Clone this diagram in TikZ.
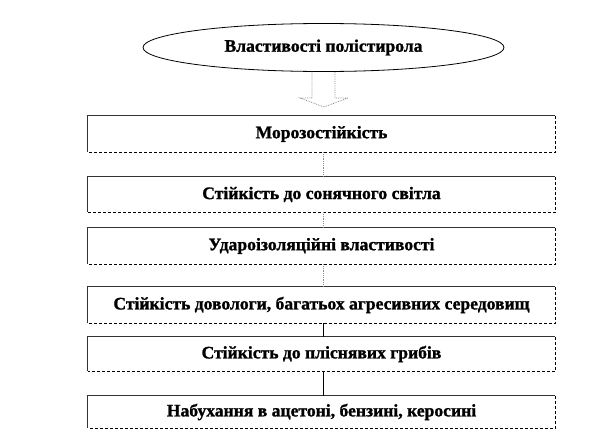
\documentclass[tikz,border=0pt]{standalone}
\usepackage{fontspec}
\setmainfont{Liberation Serif}
\newfontfamily\heavyfont[FakeBold=1.2]{Liberation Serif Bold}
\usetikzlibrary{shapes.geometric}
\begin{document}
\begin{tikzpicture}[x=1pt,y=-1pt,
  lbl/.style={font=\fontsize{17.6}{20}\selectfont\heavyfont},
  box/.style={lbl, rectangle, minimum width=467pt, inner sep=0pt},
  edgesolid/.style={draw=black!80, line width=0.7pt},
  edgedash/.style={draw=black, line width=0.8pt, densely dashed},
  link/.style={draw=black!45, line width=0.8pt, densely dotted},
  linksolid/.style={draw=black, line width=0.6pt}]
\useasboundingbox (0,0) rectangle (612,439);
\node[lbl, ellipse, draw, line width=0.8pt, minimum width=361pt, minimum height=48pt, inner sep=0pt] (top) at (323.5,47.5) {Властивості полістирола};
% block arrow
\draw[draw=black!45, line width=0.8pt, densely dotted] (312,71.5) -- (312,98) -- (300,98) -- (324,107) -- (348,98) -- (335,98) -- (335,71.5);
\node[box, minimum height=36pt] (b1) at (321.5,134) {Морозостійкість};
\node[box, minimum height=35pt] (b2) at (321.5,194.5) {Стійкість до сонячного світла};
\node[box, minimum height=36pt] (b3) at (321.5,246) {Удароізоляційні властивості};
\node[box, minimum height=36pt] (b4) at (321.5,305) {Стійкість довологи, багатьох агресивних середовищ};
\node[box, minimum height=34pt] (b5) at (321.5,354) {Стійкість до пліснявих грибів};
\node[box, minimum height=32pt] (b6) at (321.5,412) {Набухання в ацетоні, бензині, керосині};
\foreach \b in {b1,b2,b3,b4,b5,b6}{
  \draw[edgesolid] (\b.south west) -- (\b.north west) -- (\b.north east);
  \draw[edgedash] (\b.north east) -- (\b.south east) -- (\b.south west);
}
\draw[link] ([xshift=1.5pt]b1.south) -- ([xshift=1.5pt]b2.north);
\draw[link] ([xshift=1.5pt]b2.south) -- ([xshift=1.5pt]b3.north);
\draw[link] ([xshift=1.5pt]b3.south) -- ([xshift=1.5pt]b4.north);
\draw[linksolid] ([xshift=1.5pt]b4.south) -- ([xshift=1.5pt]b5.north);
\draw[linksolid] ([xshift=1.5pt]b5.south) -- ([xshift=1.5pt]b6.north);
\end{tikzpicture}
\end{document}
